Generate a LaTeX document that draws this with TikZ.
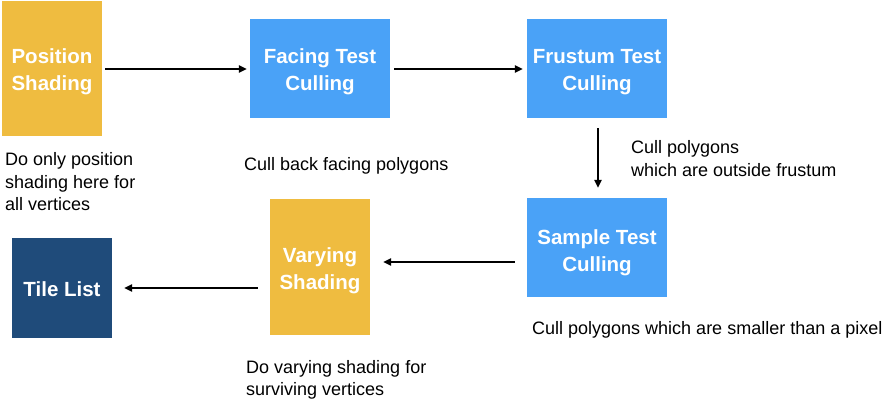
\documentclass[tikz,border=0pt]{standalone}
\usepackage{fontspec}
\setmainfont{Liberation Sans}
\usetikzlibrary{arrows.meta}
\definecolor{ylw}{HTML}{EFBC40}
\definecolor{blu}{HTML}{4AA2F7}
\definecolor{dblu}{HTML}{1F4B7A}
\begin{document}
\begin{tikzpicture}[x=1pt,y=-1pt,
  boxy/.style={rectangle,inner sep=0pt,fill=ylw},
  boxb/.style={boxy,fill=blu},
  boxd/.style={boxy,fill=dblu},
  btext/.style={inner sep=0pt,text=white,align=center,font=\fontsize{20.5}{27}\selectfont\bfseries},
  note/.style={anchor=west,align=left,inner sep=0pt,font=\fontsize{18}{22.5}\selectfont},
  arr/.style={line width=1.3pt,-{Triangle[length=8pt,width=7.5pt]}}]
\useasboundingbox (0,0) rectangle (890,406);
\node[boxy,minimum width=100pt,minimum height=135pt] (pos) at (52,68.5) {};
\node[boxb,minimum width=140pt,minimum height=99pt] (face) at (320,68.5) {};
\node[boxb,minimum width=140pt,minimum height=99pt] (frus) at (597,68.5) {};
\node[boxb,minimum width=140pt,minimum height=99pt] (samp) at (597,247.5) {};
\node[boxy,minimum width=100pt,minimum height=136pt] (vary) at (320,267) {};
\node[boxd,minimum width=100pt,minimum height=100pt] (tile) at (62,288) {};
\node[btext] (tpos) at ([yshift=-3.5pt]pos.center) {Position\\Shading};
\node[btext] (tface) at ([yshift=-3.5pt]face.center) {Facing Test\\Culling};
\node[btext] (tfrus) at ([yshift=-3.5pt]frus.center) {Frustum Test\\Culling};
\node[btext] (tsamp) at ([yshift=-5pt]samp.center) {Sample Test\\Culling};
\node[btext] (tvary) at ([yshift=-4pt]vary.center) {Varying\\Shading};
\node[btext] (ttile) at ([yshift=-1pt]tile.center) {Tile List};
\node[note] (n1) at (5,182) {Do only position\\shading here for\\all vertices};
\node[note] (n2) at (244,166) {Cull back facing polygons};
\node[note] (n3) at (631,158.5) {Cull polygons\\which are outside frustum};
\node[note] (n4) at (532,330) {Cull polygons which are smaller than a pixel};
\node[note] (n5) at (246,380) {Do varying shading for\\surviving vertices};
\coordinate (ya) at (0,69);
\coordinate (yb) at (0,262);
\coordinate (yc) at (0,288);
\coordinate (xa) at (598,0);
\draw[arr,shorten <=3pt,shorten >=3pt] (pos.east |- ya) -- (face.west |- ya);
\draw[arr,shorten <=4pt,shorten >=4pt] (face.east |- ya) -- (frus.west |- ya);
\draw[arr,shorten <=10pt,shorten >=10pt] (frus.south -| xa) -- (samp.north -| xa);
\draw[arr,shorten <=12pt,shorten >=13pt] (samp.west |- yb) -- (vary.east |- yb);
\draw[arr,shorten <=12pt,shorten >=12pt] (vary.west |- yc) -- (tile.east |- yc);
\end{tikzpicture}
\end{document}
